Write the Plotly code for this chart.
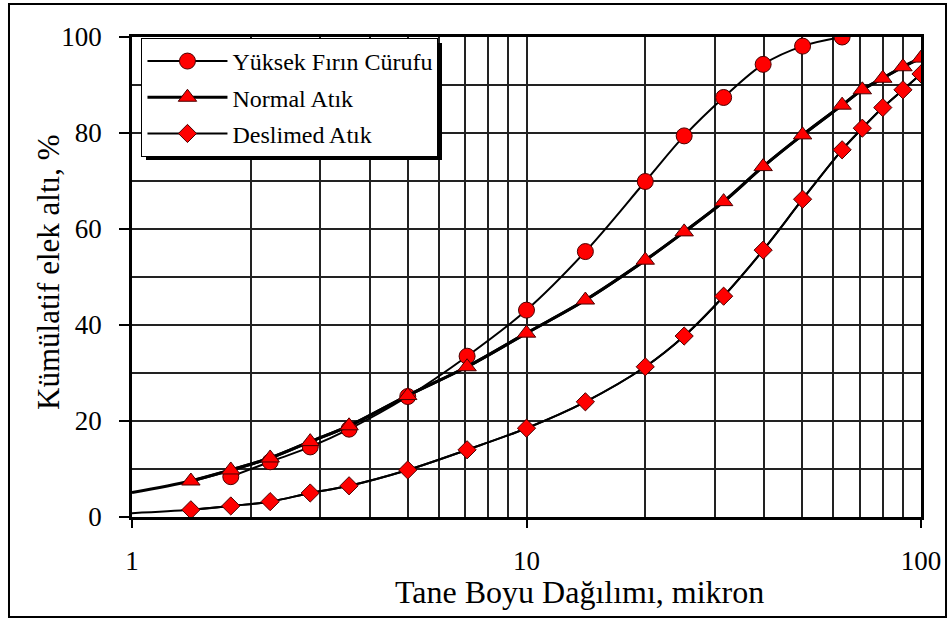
import plotly.graph_objects as go

# Data
x_curuf = [1.78, 2.24, 2.83, 3.55, 5.0, 7.07, 10.0, 14.1, 20.0, 25.1, 31.6, 39.8, 50.1, 63.1]
y_curuf = [8.4, 11.5, 14.6, 18.3, 25.1, 33.5, 43.1, 55.3, 69.9, 79.4, 87.4, 94.3, 98.1, 100.0]

x_normal_line = [1.0]
y_normal_line = [5.1]
x_normal = [1.41, 1.78, 2.24, 2.83, 3.55, 5.0, 7.07, 10.0, 14.1, 20.0, 25.1, 31.6, 39.8, 50.1, 63.1, 71.0, 80.0, 90.0, 100.0]
y_normal = [7.5, 9.8, 12.3, 15.7, 19.0, 25.3, 31.3, 38.3, 45.2, 53.5, 59.4, 65.7, 73.0, 79.6, 85.8, 89.0, 91.4, 93.8, 95.6]

x_deslimed_line = [1.0]
y_deslimed_line = [0.8]
x_deslimed = [1.41, 1.78, 2.24, 2.83, 3.55, 5.0, 7.07, 10.0, 14.1, 20.0, 25.1, 31.6, 39.8, 50.1, 63.1, 71.0, 80.0, 90.0, 100.0]
y_deslimed = [1.5, 2.3, 3.2, 5.0, 6.5, 9.8, 14.0, 18.5, 24.0, 31.3, 37.7, 46.0, 55.6, 66.2, 76.5, 81.0, 85.3, 89.0, 92.3]

x_ticks = [1, 10, 100]
x_minor = [2, 3, 4, 5, 6, 7, 8, 9, 20, 30, 40, 50, 60, 70, 80, 90]
names = ["Yüksek Fırın Cürufu", "Normal Atık", "Deslimed Atık"]
x_title = "Tane Boyu Dağılımı, mikron"
y_title = "Kümülatif elek altı, %"

FONT = "'Times New Roman', 'Liberation Serif', serif"
RED = "#ff0000"
EDGE = "#4a0000"

fig = go.Figure()

# smoothed lines starting at x=1 (no legend)
fig.add_trace(go.Scatter(x=x_normal_line + x_normal, y=y_normal_line + y_normal, mode="lines",
                         line=dict(color="black", width=3, shape="spline"), showlegend=False, hoverinfo="skip"))
fig.add_trace(go.Scatter(x=x_deslimed_line + x_deslimed, y=y_deslimed_line + y_deslimed, mode="lines",
                         line=dict(color="black", width=2, shape="spline"), showlegend=False, hoverinfo="skip"))

# series with markers and legend entries
for xs, ys, nm, sym, sz, w, g in [
    (x_curuf, y_curuf, names[0], "circle", 16, 2, "a"),
    (x_normal, y_normal, names[1], "triangle-up", 16, 3, "b"),
    (x_deslimed, y_deslimed, names[2], "diamond", 14, 2, "c"),
]:
    fig.add_trace(go.Scatter(x=xs, y=ys, mode="lines+markers", name=nm, legendgroup=g,
                             line=dict(color="black", width=w, shape="spline"),
                             marker=dict(symbol=sym, size=sz, color=RED, line=dict(color=EDGE, width=1))))

fig.update_layout(
    width=952, height=624,
    margin=dict(l=132, r=31, t=37, b=107),
    paper_bgcolor="white", plot_bgcolor="white",
    font=dict(family=FONT, color="black"),
    showlegend=True,
    legend=dict(x=0.012, y=0.998, xanchor="left", yanchor="top",
                bgcolor="white", bordercolor="black", borderwidth=1,
                font=dict(family=FONT, size=24, color="black"),
                tracegroupgap=2, traceorder="grouped", itemwidth=80),
    xaxis=dict(type="log", range=[0, 2], tickvals=x_ticks, ticktext=["1", "10", "100"],
               showgrid=True, gridcolor="#222", gridwidth=1.5,
               minor=dict(tickvals=x_minor, showgrid=True, gridcolor="#222", gridwidth=1.5, ticks=""),
               ticks="outside", ticklen=8, tickcolor="black", tickwidth=1.5, ticklabelstandoff=10,
               showline=True, linecolor="black", linewidth=2.5, mirror=True,
               tickfont=dict(family=FONT, size=27)),
    yaxis=dict(range=[0, 100], dtick=20, tick0=0, zeroline=False,
               showgrid=True, gridcolor="#222", gridwidth=1.5,
               minor=dict(dtick=10, showgrid=True, gridcolor="#222", gridwidth=1.5, ticks=""),
               ticks="outside", ticklen=10, tickcolor="black", tickwidth=1.5, ticklabelstandoff=12,
               showline=True, linecolor="black", linewidth=2.5, mirror=True,
               tickfont=dict(family=FONT, size=27)),
    annotations=[
        dict(text=x_title, xref="paper", yref="paper", x=0.5678, y=-0.156, xanchor="center", yanchor="middle",
             showarrow=False, font=dict(family=FONT, size=32, color="black")),
        dict(text=y_title, xref="paper", yref="paper", x=-0.1065, y=0.5104, xanchor="center", yanchor="middle",
             textangle=-90, showarrow=False, font=dict(family=FONT, size=31, color="black")),
    ],
    shapes=[
        dict(type="rect", xref="paper", yref="paper", x0=-0.1559, x1=1.0317, y0=-0.2083, y1=1.06875,
             line=dict(color="black", width=2), fillcolor="rgba(0,0,0,0)", layer="below"),
        dict(type="rect", xref="paper", yref="paper", x0=(146 - 132) / 789, x1=(442 - 132) / 789,
             y0=(517 - 160) / 480, y1=(517 - 43) / 480,
             line=dict(width=0), fillcolor="black", layer="above"),
    ],
)

fig.write_html("out.html")
